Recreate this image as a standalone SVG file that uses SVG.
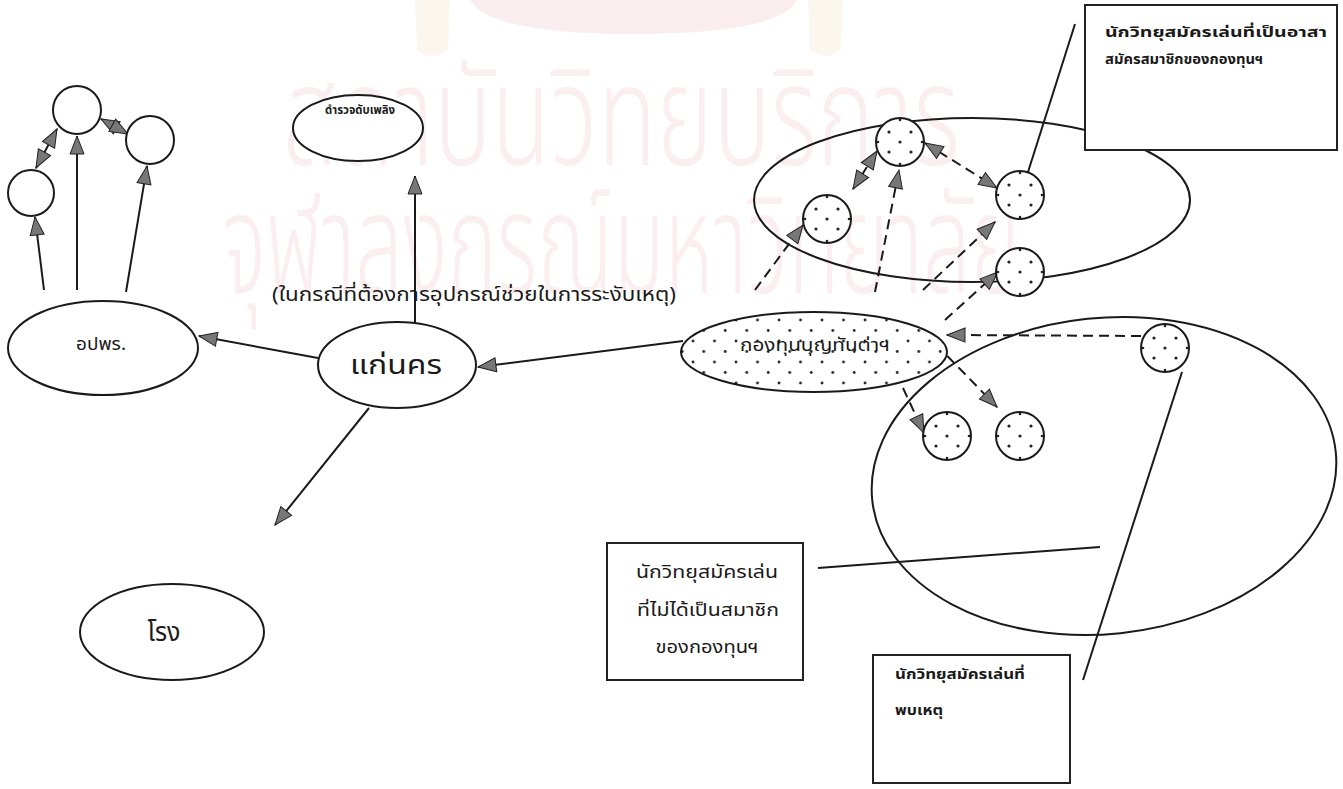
<svg xmlns="http://www.w3.org/2000/svg" width="1343" height="789" viewBox="0 0 1343 789">
<style>
.ln{fill:none;stroke:#1a1a1a;stroke-width:2}
.ar{fill:none;stroke:#1a1a1a;stroke-width:2;marker-end:url(#ah)}
.ar2{fill:none;stroke:#1a1a1a;stroke-width:2;marker-end:url(#ah);marker-start:url(#ah)}
.da{stroke-dasharray:10 6}
.nd{fill:#fff;stroke:#1a1a1a;stroke-width:2}
.tx{font-family:"Noto Sans Thai","Noto Sans","DejaVu Sans",sans-serif;fill:#1a1a1a}
.bx{fill:#fff;stroke:#222;stroke-width:2}
.wm{font-family:"Noto Sans Thai","Noto Sans","DejaVu Sans",sans-serif;fill:#faeef1;font-weight:300}
</style>
<defs>
<marker id="ah" viewBox="0 0 20 16" refX="19" refY="8" markerWidth="20" markerHeight="16" markerUnits="userSpaceOnUse" orient="auto-start-reverse">
<path d="M1,1 L19,8 L1,15 Z" fill="#777" stroke="#222" stroke-width="1"/>
</marker>
<pattern id="dots" x="0" y="0" width="21.5" height="21" patternUnits="userSpaceOnUse">
<circle cx="5" cy="5" r="1.4" fill="#222"/>
<circle cx="15.75" cy="15.5" r="1.4" fill="#222"/>
</pattern>
<g id="dc">
<circle r="24" fill="#fff" stroke="#1a1a1a" stroke-width="2"/>
<g fill="#222">
<circle cx="-11" cy="-10" r="1.6"/><circle cx="11" cy="-10" r="1.6"/><circle cx="0" cy="0" r="1.6"/>
<circle cx="-11" cy="10" r="1.6"/><circle cx="11" cy="10" r="1.6"/>
<circle cx="0" cy="-22" r="1.3"/><circle cx="0" cy="22" r="1.3"/><circle cx="-22" cy="0" r="1.3"/><circle cx="22" cy="0" r="1.3"/>
</g>
</g>
</defs>
<rect width="1343" height="789" fill="#fff"/>
<g id="watermark">
<path d="M415,0 L450,0 L448,50 Q432,62 417,50 Z" fill="#fbf7ef"/>
<path d="M808,0 L843,0 L841,50 Q826,62 810,50 Z" fill="#fbf7ef"/>
<path d="M470,0 L797,0 Q780,34 633,34 Q490,34 470,0 Z" fill="#faedf0"/>
<text class="wm" x="283" y="165" font-size="140" textLength="677" lengthAdjust="spacingAndGlyphs">สถาบันวิทยบริการ</text>
<text class="wm" x="222" y="293" font-size="140" textLength="798" lengthAdjust="spacingAndGlyphs">จุฬาลงกรณ์มหาวิทยาลัย</text>
</g>
<g id="groups">
<ellipse class="ln" cx="972" cy="200" rx="218" ry="82"/>
<ellipse class="ln" cx="1104" cy="476" rx="233" ry="158" transform="rotate(-6 1104 476)"/>
</g>
<g id="connectors">
<line class="ar" x1="44" y1="290" x2="35" y2="217"/>
<line class="ar" x1="77" y1="290" x2="77" y2="136"/>
<line class="ar" x1="126" y1="292" x2="147" y2="166"/>
<line class="ar2" x1="36" y1="168" x2="57" y2="129"/>
<line class="ar2" x1="101" y1="119" x2="128" y2="134"/>
<line class="ar" x1="318" y1="358" x2="199" y2="336"/>
<line class="ar" x1="415" y1="325" x2="415" y2="176"/>
<line class="ar" x1="369" y1="408" x2="275" y2="525"/>
<line class="ar" x1="683" y1="341" x2="478" y2="367"/>
<line class="ar da" x1="755" y1="290" x2="803" y2="225"/>
<line class="ar da" x1="875" y1="292" x2="899" y2="170"/>
<line class="ar da" x1="923" y1="290" x2="995" y2="222"/>
<line class="ar da" x1="945" y1="320" x2="998" y2="272"/>
<line class="ar2 da" x1="853" y1="189" x2="877" y2="151"/>
<line class="ar2 da" x1="925" y1="143" x2="997" y2="188"/>
<line class="ar da" x1="1141" y1="336" x2="947" y2="335"/>
<line class="ar da" x1="925" y1="333" x2="997" y2="407"/>
<line class="ar da" x1="903" y1="388" x2="924" y2="433"/>
<line class="ln" x1="1028" y1="172" x2="1075" y2="24"/>
<line class="ln" x1="818" y1="568" x2="1100" y2="547"/>
<line class="ln" x1="1182" y1="372" x2="1083" y2="680"/>
</g>
<g id="n-c1"><circle class="nd" cx="77" cy="110" r="24"/></g>
<g id="n-c2"><circle class="nd" cx="150" cy="140" r="24"/></g>
<g id="n-c3"><circle class="nd" cx="31" cy="193" r="23"/></g>
<g id="n-opor">
<ellipse class="nd" cx="103" cy="348" rx="95" ry="47"/>
<text class="tx" x="101" y="350" font-size="18" text-anchor="middle" textLength="50" lengthAdjust="spacingAndGlyphs">อปพร.</text>
</g>
<g id="n-fire">
<ellipse class="nd" cx="358" cy="128" rx="65" ry="33"/>
<text class="tx" x="360" y="114" font-size="12" font-weight="bold" text-anchor="middle" textLength="70" lengthAdjust="spacingAndGlyphs">ดำรวจดับเพลิง</text>
</g>
<g id="n-khonkaen">
<ellipse class="nd" cx="397" cy="365" rx="79" ry="43"/>
<text class="tx" x="396" y="374" font-size="26" text-anchor="middle" textLength="92" lengthAdjust="spacingAndGlyphs">แก่นคร</text>
</g>
<g id="n-rong">
<ellipse class="nd" cx="172" cy="632" rx="92" ry="48"/>
<text class="tx" x="164" y="641" font-size="26" text-anchor="middle" textLength="33" lengthAdjust="spacingAndGlyphs">โรง</text>
</g>
<g id="label-equip">
<text class="tx" x="474" y="301" font-size="19" text-anchor="middle" textLength="404" lengthAdjust="spacingAndGlyphs">(ในกรณีที่ต้องการอุปกรณ์ช่วยในการระงับเหตุ)</text>
</g>
<g id="n-fund">
<ellipse cx="814" cy="352" rx="133" ry="40" fill="#fff"/>
<ellipse cx="814" cy="352" rx="133" ry="40" fill="url(#dots)" stroke="#1a1a1a" stroke-width="2"/>
<text class="tx" x="815" y="351" font-size="17" text-anchor="middle" textLength="150" lengthAdjust="spacingAndGlyphs">กองทุนบุญทันต่าฯ</text>
</g>
<g id="n-d1"><use href="#dc" x="900" y="142"/></g>
<g id="n-d2"><use href="#dc" x="827" y="219"/></g>
<g id="n-d3"><use href="#dc" x="1020" y="195"/></g>
<g id="n-d4"><use href="#dc" x="1020" y="272"/></g>
<g id="n-d5"><use href="#dc" x="1165" y="348"/></g>
<g id="n-d6"><use href="#dc" x="947" y="436"/></g>
<g id="n-d7"><use href="#dc" x="1020" y="436"/></g>
<g id="box-members">
<rect class="bx" x="1085" y="5" width="252" height="145"/>
<text class="tx" x="1105" y="37" font-size="14" font-weight="bold" textLength="222" lengthAdjust="spacingAndGlyphs">นักวิทยุสมัครเล่นที่เป็นอาสา</text>
<text class="tx" x="1105" y="64" font-size="14" font-weight="bold" textLength="158" lengthAdjust="spacingAndGlyphs">สมัครสมาชิกของกองทุนฯ</text>
</g>
<g id="box-nonmembers">
<rect class="bx" x="607" y="543" width="196" height="137"/>
<text class="tx" x="707" y="578" font-size="17" text-anchor="middle" textLength="142" lengthAdjust="spacingAndGlyphs">นักวิทยุสมัครเล่น</text>
<text class="tx" x="708" y="616" font-size="17" text-anchor="middle" textLength="142" lengthAdjust="spacingAndGlyphs">ที่ไม่ได้เป็นสมาชิก</text>
<text class="tx" x="707" y="653" font-size="17" text-anchor="middle" textLength="103" lengthAdjust="spacingAndGlyphs">ของกองทุนฯ</text>
</g>
<g id="box-witness">
<rect class="bx" x="873" y="655" width="197" height="128"/>
<text class="tx" x="895" y="679" font-size="14" font-weight="bold" textLength="130" lengthAdjust="spacingAndGlyphs">นักวิทยุสมัครเล่นที่</text>
<text class="tx" x="895" y="715" font-size="14" font-weight="bold" textLength="48" lengthAdjust="spacingAndGlyphs">พบเหตุ</text>
</g>
</svg>
